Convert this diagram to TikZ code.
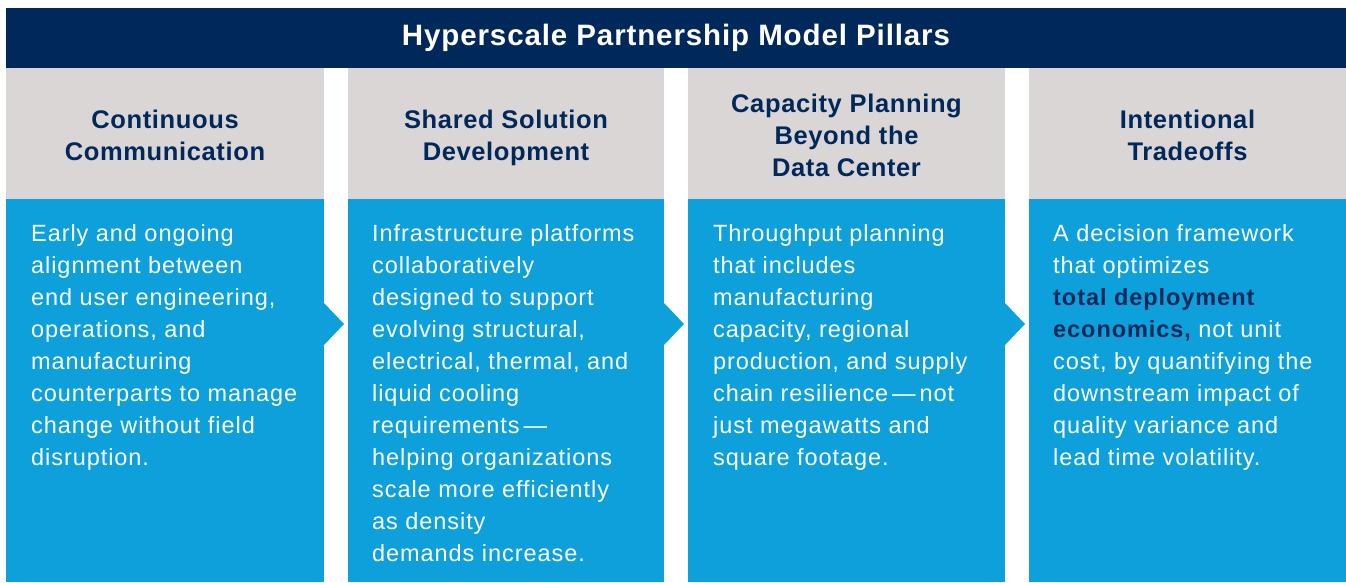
\documentclass[tikz,border=0pt]{standalone}
\usepackage{fontspec}
\setmainfont{Liberation Sans}
\newfontfamily\titlefont{Liberation Sans}[LetterSpace=3]
\newfontfamily\headfont{Liberation Sans}[LetterSpace=2.5]
\newfontfamily\bodyfont{Liberation Sans}[LetterSpace=4]
\definecolor{pillarnavy}{HTML}{00285A}
\definecolor{pillargrey}{HTML}{DAD6D6}
\definecolor{pillarblue}{HTML}{0DA0DB}
\newcommand{\strongterm}[1]{{\color{pillarnavy}\bfseries #1}}
\tikzset{
    titletext/.style={text=white, font=\titlefont\bfseries\fontsize{29.5}{34}\selectfont},
    headtext/.style={text=pillarnavy, align=center, inner sep=0pt,
        font=\headfont\bfseries\fontsize{25.5}{32}\selectfont},
    bodytext/.style={text=white, align=left, inner sep=0pt, anchor=north west,
        font=\bodyfont\fontsize{23.5}{32}\selectfont},
    pillararrow/.pic={
        \fill[pillarblue] (0,-21) -- (20,0) -- (0,21) -- cycle;
    },
}

\begin{document}
\begin{tikzpicture}[x=1pt, y=-1pt]
    \useasboundingbox (0,0) rectangle (1346,582);
    % banner
    \fill[pillarnavy] (6,8) rectangle (1346,68);
    \node[titletext] (title) at (676,38) {Hyperscale Partnership Model Pillars};
    % pillar heads and bodies
    \begin{scope}[every path/.style={fill=pillargrey}]
        \path (6,68) rectangle (324,199);
        \path (348,68) rectangle (664,199);
        \path (688,68) rectangle (1005,199);
        \path (1029,68) rectangle (1346,199);
    \end{scope}
    \begin{scope}[every path/.style={fill=pillarblue}]
        \path (6,199) rectangle (324,582);
        \path (348,199) rectangle (664,582);
        \path (688,199) rectangle (1005,582);
        \path (1029,199) rectangle (1346,582);
    \end{scope}
    \pic at (324,324) {pillararrow};
    \pic at (664,324) {pillararrow};
    \pic at (1005,324) {pillararrow};
    % head texts
    \node[headtext] (head1) at (165,135) {Continuous\\Communication};
    \node[headtext] (head2) at (506,138) {Shared Solution\\Development};
    \node[headtext] (head3) at (846.5,135) {Capacity Planning\\Beyond the\\Data Center};
    \node[headtext] (head4) at (1187.5,135) {Intentional\\Tradeoffs};
    % body texts
    \node[bodytext] (body1) at (31,224) {Early and ongoing\\alignment between\\end user engineering,\\operations, and\\manufacturing\\counterparts to manage\\change without field\\disruption.};
    \node[bodytext] (body2) at (372,224) {Infrastructure platforms\\collaboratively\\designed to support\\evolving structural,\\electrical, thermal, and\\liquid cooling\\requirements\,—\\helping organizations\\scale more efficiently\\as density\\demands increase.};
    \node[bodytext] (body3) at (713,224) {Throughput planning\\that includes\\manufacturing\\capacity, regional\\production, and supply\\chain resilience\,—\,not\\just megawatts and\\square footage.};
    \node[bodytext] (body4) at (1053,224) {A decision framework\\that optimizes\\\strongterm{total deployment}\\\strongterm{economics,} not unit\\cost, by quantifying the\\downstream impact of\\quality variance and\\lead time volatility.};
\end{tikzpicture}
\end{document}
